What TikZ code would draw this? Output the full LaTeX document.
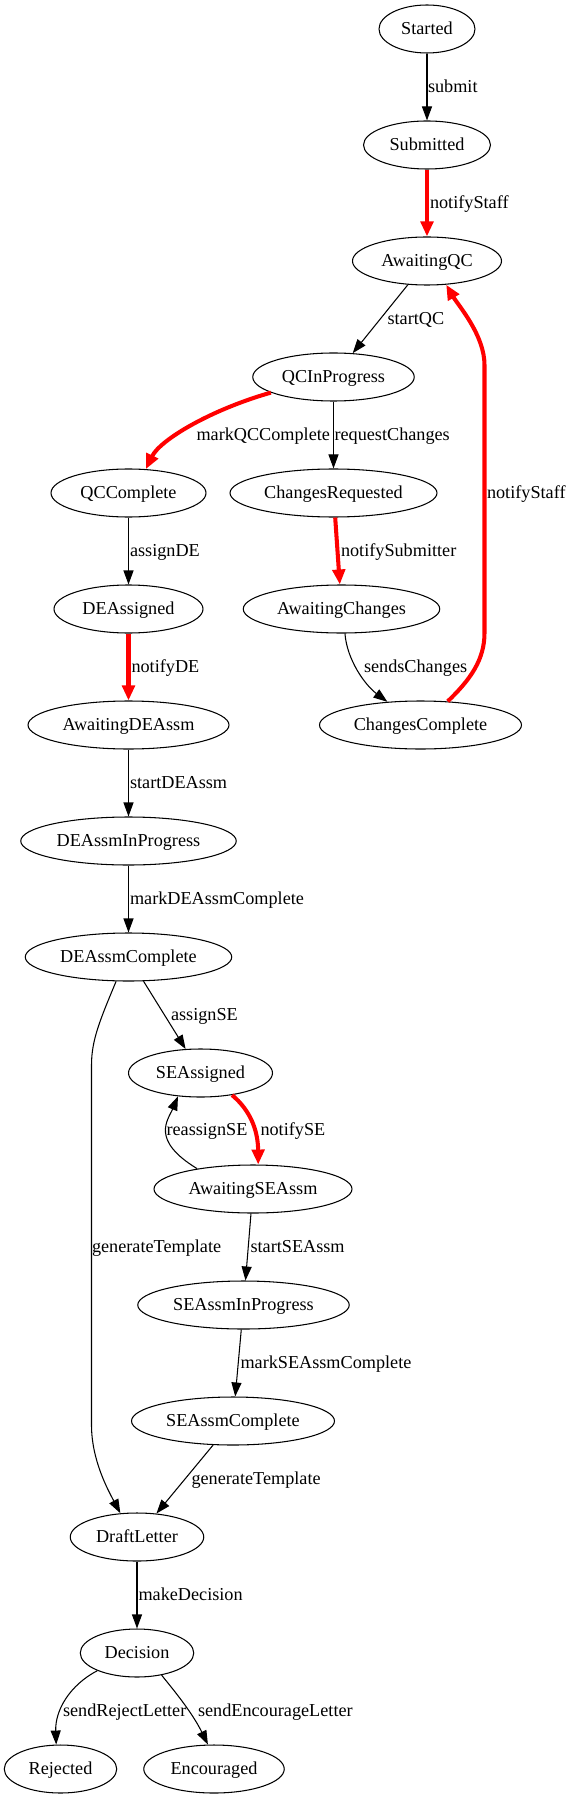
\documentclass[tikz,border=0pt]{standalone}
\usepackage{fontspec}
\setmainfont{Liberation Serif}
\usetikzlibrary{arrows.meta, shapes.geometric}
\newcommand{\gvfont}{\fontsize{10.36}{12}\selectfont}
\tikzset{
	state/.style={draw, ellipse, line width=0.6pt, inner sep=0pt, minimum height=0.96cm, text height=0.68em, text depth=0pt, font=\gvfont},
	trans/.style={-{Triangle[length=0.28cm, width=0.2cm]}, line width=0.6pt},
	notify/.style={-{Triangle[length=0.3cm, width=0.25cm]}, line width=2.3pt, red},
	lbl/.style={anchor=west, inner sep=0pt, text height=0.68em, text depth=0pt, font=\gvfont, text=black},
}

\begin{document}
\begin{tikzpicture}
	\useasboundingbox (0,0) rectangle (11.34,-35.98);
	% states
	\node[state, minimum width=1.92cm] (started) at (8.54,-0.58) {Started};
	\node[state, minimum width=2.54cm] (submitted) at (8.54,-2.90) {Submitted};
	\node[state, minimum width=2.98cm] (awqc) at (8.54,-5.22) {AwaitingQC};
	\node[state, minimum width=3.23cm] (qcprog) at (6.67,-7.54) {QCInProgress};
	\node[state, minimum width=3.10cm] (qccomp) at (2.57,-9.86) {QCComplete};
	\node[state, minimum width=4.14cm] (chreq) at (6.67,-9.86) {ChangesRequested};
	\node[state, minimum width=2.98cm] (deassig) at (2.57,-12.18) {DEAssigned};
	\node[state, minimum width=3.93cm] (awch) at (6.83,-12.18) {AwaitingChanges};
	\node[state, minimum width=4.02cm] (awde) at (2.57,-14.50) {AwaitingDEAssm};
	\node[state, minimum width=4.04cm] (chcomp) at (8.41,-14.50) {ChangesComplete};
	\node[state, minimum width=4.31cm] (deprog) at (2.57,-16.82) {DEAssmInProgress};
	\node[state, minimum width=4.13cm] (decomp) at (2.57,-19.14) {DEAssmComplete};
	\node[state, minimum width=2.88cm] (seassig) at (4.01,-21.46) {SEAssigned};
	\node[state, minimum width=3.96cm] (awse) at (5.06,-23.78) {AwaitingSEAssm};
	\node[state, minimum width=4.23cm] (seprog) at (4.87,-26.10) {SEAssmInProgress};
	\node[state, minimum width=4.06cm] (secomp) at (4.66,-28.42) {SEAssmComplete};
	\node[state, minimum width=2.67cm] (draft) at (2.74,-30.74) {DraftLetter};
	\node[state, minimum width=2.27cm] (decision) at (2.74,-33.06) {Decision};
	\node[state, minimum width=2.25cm] (rejected) at (1.21,-35.38) {Rejected};
	\node[state, minimum width=2.81cm] (encour) at (4.28,-35.38) {Encouraged};

	% QC part
	\draw[trans] (started) -- (submitted) node[lbl] at (8.55,-1.73) {submit};
	\draw[notify] (submitted) -- (awqc) node[lbl] at (8.56,-4.05) {notifyStaff};
	\draw[trans] (awqc) -- (qcprog) node[lbl] at (7.74,-6.38) {startQC};
	\draw[notify] (qcprog.194) .. controls (4.20,-8.20) and (3.20,-8.80) .. (qccomp.54)
		node[lbl] at (3.89,-8.70) {markQCComplete};
	\draw[trans] (qcprog) -- (chreq) node[lbl] at (6.68,-8.70) {requestChanges};
	\draw[notify] (chreq) -- (awch) node[lbl] at (6.78,-11.01) {notifySubmitter};
	\draw[trans] (awch.278) .. controls (6.94,-13.20) and (7.30,-13.70) .. (chcomp.145)
		node[lbl] at (7.27,-13.33) {sendsChanges};
	\draw[notify] (chcomp.41) .. controls (9.40,-13.60) and (9.69,-13.20) .. (9.69,-12.66)
		-- (9.69,-7.30) .. controls (9.69,-6.70) and (9.16,-6.10) .. (awqc.309)
		node[lbl] at (9.70,-9.85) {notifyStaff};

	% DE part
	\draw[trans] (qccomp) -- (deassig) node[lbl] at (2.59,-11.01) {assignDE};
	\draw[notify] (deassig) -- (awde) node[lbl] at (2.59,-13.33) {notifyDE};
	\draw[trans] (awde) -- (deprog) node[lbl] at (2.59,-15.65) {startDEAssm};
	\draw[trans] (deprog) -- (decomp) node[lbl] at (2.59,-17.98) {markDEAssmComplete};
	\draw[trans] (decomp.243) .. controls (2.00,-20.40) and (1.83,-20.80) .. (1.83,-21.30)
		-- (1.83,-28.50) .. controls (1.83,-29.20) and (2.16,-29.80) .. (draft.125)
		node[lbl] at (1.83,-24.93) {generateTemplate};

	% SE part
	\draw[trans] (decomp) -- (seassig) node[lbl] at (3.41,-20.29) {assignSE};
	\draw[notify] (seassig.325) .. controls (5.00,-22.20) and (5.16,-22.60) .. (awse.78)
		node[lbl] at (5.17,-22.60) {notifySE};
	\draw[trans] (awse.160) .. controls (3.00,-22.80) and (3.36,-22.40) .. (seassig.226)
		node[lbl] at (3.32,-22.60) {reassignSE};
	\draw[trans] (awse) -- (seprog) node[lbl] at (5.00,-24.93) {startSEAssm};
	\draw[trans] (seprog) -- (secomp) node[lbl] at (4.80,-27.25) {markSEAssmComplete};
	\draw[trans] (secomp) -- (draft) node[lbl] at (3.82,-29.58) {generateTemplate};

	% decision
	\draw[trans] (draft) -- (decision) node[lbl] at (2.76,-31.89) {makeDecision};
	\draw[trans] (decision.204) .. controls (1.40,-33.70) and (1.10,-34.20) .. (rejected.100)
		node[lbl] at (1.25,-34.21) {sendRejectLetter};
	\draw[trans] (decision.318) .. controls (3.44,-33.76) and (3.84,-34.24) .. (encour.104)
		node[lbl] at (3.95,-34.21) {sendEncourageLetter};
\end{tikzpicture}
\end{document}
